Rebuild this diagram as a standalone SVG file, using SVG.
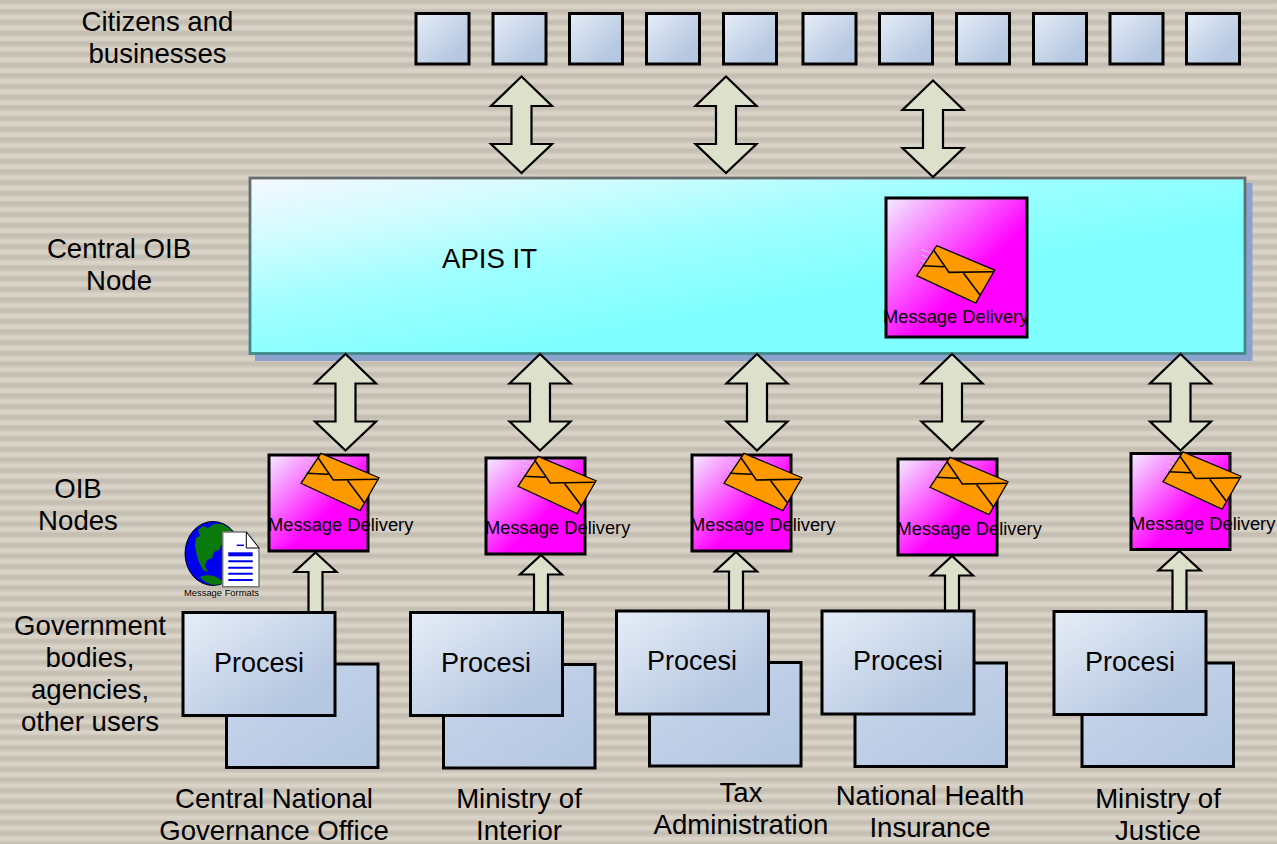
<svg xmlns="http://www.w3.org/2000/svg" xmlns:xlink="http://www.w3.org/1999/xlink" width="1277" height="844" viewBox="0 0 1277 844">
<style>
text{font-family:"Liberation Sans",Arial,sans-serif;fill:#000}
.lbl{font-size:27.6px;text-anchor:middle}
.pr{font-size:27px;text-anchor:middle}
.md{font-size:18.3px}
.sq{fill:url(#blue);stroke:#000;stroke-width:3}
.fr{fill:url(#blue);stroke:#000;stroke-width:3}
.bk{fill:url(#blue2);stroke:#000;stroke-width:3}
.mg{fill:url(#mag);stroke:#000;stroke-width:3}
.ar{fill:#dde0cb;stroke:#000;stroke-width:2.200;stroke-linejoin:miter}
</style>
<defs>
<linearGradient id="stripeG" x1="0" y1="0" x2="0" y2="1">
<stop offset="0" stop-color="#c2bbaf"/><stop offset=".25" stop-color="#c8c1b5"/><stop offset=".55" stop-color="#dbd5ca"/><stop offset=".8" stop-color="#d6cfc4"/><stop offset="1" stop-color="#c2bbaf"/>
</linearGradient>
<pattern id="stripes" patternUnits="userSpaceOnUse" width="16" height="10.67"><rect width="16" height="10.67" fill="url(#stripeG)"/></pattern>
<linearGradient id="blue" x1="0" y1="0" x2="1" y2="1"><stop offset="0" stop-color="#e6edf7"/><stop offset=".75" stop-color="#b8c9e2"/><stop offset="1" stop-color="#b4c6e0"/></linearGradient>
<linearGradient id="blue2" x1="0" y1="0" x2="1" y2="1"><stop offset="0" stop-color="#c8d6ec"/><stop offset="1" stop-color="#b4c6e0"/></linearGradient>
<linearGradient id="mag" x1="0" y1="0" x2="1" y2="1"><stop offset="0" stop-color="#f2eeff"/><stop offset=".6" stop-color="#ff00ff"/><stop offset="1" stop-color="#ff00ff"/></linearGradient>
<linearGradient id="cy" x1="0" y1="0" x2="1" y2="1"><stop offset="0" stop-color="#f6f8ff"/><stop offset=".2" stop-color="#cdfcff"/><stop offset=".38" stop-color="#a0feff"/><stop offset=".62" stop-color="#7fffff"/><stop offset="1" stop-color="#7fffff"/></linearGradient>
<linearGradient id="edge" x1="0" y1="0" x2="0" y2="1"><stop offset="0" stop-color="#666c6c"/><stop offset="1" stop-color="#3f8a8c"/></linearGradient>
<g id="env">
<path d="M-15 3.700L-5 7.700M-15 9.300L-7.300 12.700M-16 14.300L-10 16.700M-16.700 19.300L-11.700 21.700" fill="none" stroke="#cccccc" stroke-width="1"/>
<path d="M0 0L58 24.400L39 57.400L-20 30Z" fill="#ff9900" stroke="#000" stroke-width="1.300"/>
<path d="M-3.300 4L12.300 26.700L56.300 26M26.700 27.400L43.300 49.400M-14.300 20L7.300 21" fill="none" stroke="#000" stroke-width="1.600"/>
</g>
<path id="dbl" class="ar" d="M0 0L30.500 29.500H10V67.500H30.500L0 96.500L-30.500 67.500H-10V29.500H-30.500Z"/>
<path id="up" class="ar" d="M0 0L21 19.500H7V60H-7V19.500H-21Z"/>
</defs>
<rect width="1277" height="844" fill="url(#stripes)"/>

<g id="central-node">
<rect x="255" y="183" width="997.500" height="178" fill="#8ba3cc"/>
<rect x="250" y="178" width="995" height="175.500" fill="url(#cy)" stroke="url(#edge)" stroke-width="2.800"/>
<text x="442" y="267.500" font-size="27.600">APIS IT</text>
</g>

<g id="connectors">
<use xlink:href="#dbl" href="#dbl" x="521.500" y="76.500"/>
<use xlink:href="#dbl" href="#dbl" x="726" y="76.500"/>
<use xlink:href="#dbl" href="#dbl" x="933" y="80.500"/>
<use xlink:href="#dbl" href="#dbl" x="345.500" y="354"/>
<use xlink:href="#dbl" href="#dbl" x="540" y="354"/>
<use xlink:href="#dbl" href="#dbl" x="757" y="354"/>
<use xlink:href="#dbl" href="#dbl" x="952" y="354"/>
<use xlink:href="#dbl" href="#dbl" x="1180.500" y="354"/>
<use xlink:href="#up" href="#up" x="315.500" y="552.500"/>
<use xlink:href="#up" href="#up" x="541" y="555"/>
<use xlink:href="#up" href="#up" x="736" y="552"/>
<use xlink:href="#up" href="#up" x="952" y="556"/>
<use xlink:href="#up" href="#up" x="1179.500" y="551"/>
</g>

<g id="citizens-label"><text class="lbl" x="157.500" y="31">Citizens and</text><text class="lbl" x="157.500" y="63">businesses</text></g>
<g id="citizens">
<rect class="sq" x="416" y="13.500" width="53" height="50.500"/>
<rect class="sq" x="493" y="13.500" width="53" height="50.500"/>
<rect class="sq" x="569.500" y="13.500" width="53" height="50.500"/>
<rect class="sq" x="646.500" y="13.500" width="53" height="50.500"/>
<rect class="sq" x="723.500" y="13.500" width="53" height="50.500"/>
<rect class="sq" x="803" y="13.500" width="53" height="50.500"/>
<rect class="sq" x="879.500" y="13.500" width="53" height="50.500"/>
<rect class="sq" x="956.500" y="13.500" width="53" height="50.500"/>
<rect class="sq" x="1033.500" y="13.500" width="53" height="50.500"/>
<rect class="sq" x="1110" y="13.500" width="53" height="50.500"/>
<rect class="sq" x="1186.500" y="13.500" width="53" height="50.500"/>
</g>

<g id="central-message-delivery">
<rect class="mg" x="886" y="198" width="141" height="139"/>
<use xlink:href="#env" href="#env" x="936.700" y="245.700"/>
<text class="md" x="883" y="323">Message Delivery</text>
</g>

<g id="labels">
<text class="lbl" x="119" y="258">Central OIB</text><text class="lbl" x="119" y="290">Node</text>
<text class="lbl" x="78" y="498">OIB</text><text class="lbl" x="78" y="530">Nodes</text>
<text class="lbl" x="90" y="635">Government</text><text class="lbl" x="90" y="667">bodies,</text><text class="lbl" x="90" y="699">agencies,</text><text class="lbl" x="90" y="731">other users</text>
</g>

<g id="oib-1"><rect class="mg" x="269" y="455" width="99" height="96"/><use xlink:href="#env" href="#env" x="321" y="453.300"/><text class="md" x="268" y="531">Message Delivery</text></g>
<g id="oib-2"><rect class="mg" x="486" y="458" width="99" height="96"/><use xlink:href="#env" href="#env" x="538" y="456.300"/><text class="md" x="485" y="534">Message Delivery</text></g>
<g id="oib-3"><rect class="mg" x="692" y="455" width="99" height="96"/><use xlink:href="#env" href="#env" x="744" y="453.300"/><text class="md" x="690" y="531">Message Delivery</text></g>
<g id="oib-4"><rect class="mg" x="898" y="459" width="99" height="96"/><use xlink:href="#env" href="#env" x="950" y="457.300"/><text class="md" x="896.500" y="535">Message Delivery</text></g>
<g id="oib-5"><rect class="mg" x="1131" y="453.500" width="99" height="96"/><use xlink:href="#env" href="#env" x="1183" y="451.800"/><text class="md" x="1130" y="530">Message Delivery</text></g>

<g id="message-formats">
<ellipse cx="213" cy="553.500" rx="28" ry="32" fill="#0000ee" stroke="#000" stroke-width="1"/>
<path d="M203 526L208 528L214 524L222 524L232 530L228 536L224 540L219 550L214 552L212 558L207 560L205 566L208 572L203 570L199 562L197 556L195 546L196 538L200 536L198 530Z" fill="#0a7a0a"/>
<path d="M200 577C206 574 214 575 218 578L226 583L214 585C208 584 203 581 200 577Z" fill="#0a7a0a"/>
<path d="M222.700 532H246.300L259 548V586.700H222.700Z" fill="#fff" stroke="#777" stroke-width="1.500"/>
<path d="M246.300 532L259 548H246.300Z" fill="#fff" stroke="#000" stroke-width="1"/>
<path d="M236.700 545.300H244" stroke="#0000ee" stroke-width="1.500"/>
<rect x="228.300" y="552.300" width="24.400" height="4" fill="#0000ee"/>
<path d="M228.300 561.300H252.700M228.300 567.700H252.700M228.300 573.700H252.700M228.300 580H252.700" stroke="#0000ee" stroke-width="2" fill="none"/>
<text x="184" y="596" font-size="9.400">Message Formats</text>
</g>

<g id="proc-1"><rect class="bk" x="226.500" y="664" width="151.500" height="103.500"/><rect class="fr" x="183" y="612.500" width="152" height="103"/><text class="pr" x="259" y="672">Procesi</text></g>
<g id="proc-2"><rect class="bk" x="443.500" y="664.500" width="151.500" height="103.500"/><rect class="fr" x="410.500" y="612.500" width="152" height="103"/><text class="pr" x="486" y="672">Procesi</text></g>
<g id="proc-3"><rect class="bk" x="649.500" y="662.500" width="151.500" height="103.500"/><rect class="fr" x="616.500" y="611" width="152" height="103"/><text class="pr" x="692" y="670">Procesi</text></g>
<g id="proc-4"><rect class="bk" x="855" y="663" width="151.500" height="103.500"/><rect class="fr" x="822" y="611" width="152" height="103"/><text class="pr" x="898" y="670">Procesi</text></g>
<g id="proc-5"><rect class="bk" x="1082" y="663" width="151.500" height="103.500"/><rect class="fr" x="1054" y="611.500" width="152" height="103"/><text class="pr" x="1130" y="670.500">Procesi</text></g>

<g id="caption-labels">
<text class="lbl" x="274" y="808">Central National</text><text class="lbl" x="274" y="840">Governance Office</text>
<text class="lbl" x="519" y="808">Ministry of</text><text class="lbl" x="519" y="840">Interior</text>
<text class="lbl" x="741" y="802">Tax</text><text class="lbl" x="741" y="834">Administration</text>
<text class="lbl" x="930" y="805">National Health</text><text class="lbl" x="930" y="837">Insurance</text>
<text class="lbl" x="1158" y="808">Ministry of</text><text class="lbl" x="1158" y="840">Justice</text>
</g>
</svg>
